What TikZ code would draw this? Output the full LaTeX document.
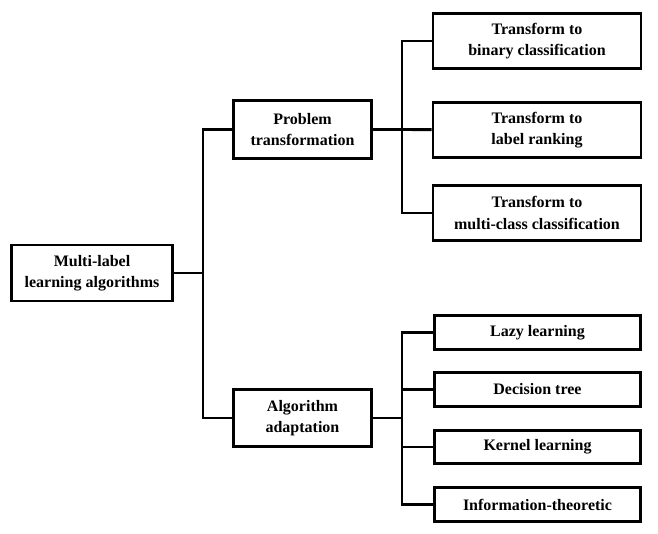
\documentclass[tikz,border=0pt]{standalone}
\usepackage{fontspec}
\setmainfont{Liberation Serif}
\begin{document}
\begin{tikzpicture}[
  x=0.75pt, y=-0.75pt, line width=2.2pt,
    box/.style={draw, inner sep=0pt, align=center,
                font=\fontsize{12}{16}\selectfont\bfseries},
    rootbox/.style={box, minimum width=121pt, minimum height=42pt},
    midbox/.style={box, minimum width=103pt, minimum height=43pt},
    topbox/.style={box, minimum width=156pt, minimum height=41pt},
    lowbox/.style={box, minimum width=155pt, minimum height=25pt},
]
\useasboundingbox (0,0) rectangle (658,534);
\node[rootbox] (root) at (92,273) {Multi-label\\learning algorithms};
\node[midbox] (prob) at (302.5,129.5) {Problem\\transformation};
\node[midbox] (alg) at (302.5,418) {Algorithm\\adaptation};
\node[topbox] (t1) at (537,41) {Transform to\\binary classification};
\node[topbox] (t2) at (537,130) {Transform to\\label ranking};
\node[topbox] (t3) at (537,213) {Transform to\\multi-class classification};
\node[lowbox] (a1) at (537.5,332.5) {Lazy learning};
\node[lowbox] (a2) at (537.5,389.5) {Decision tree};
\node[lowbox] (a3) at (537.5,447) {Kernel learning};
\node[lowbox] (a4) at (537.5,504.5) {Information-theoretic};
\coordinate (j0) at (203,273);
\coordinate (j1) at (402,129.5);
\coordinate (j2) at (402,418);
\draw (root) -- (j0);
\draw (j0) |- (prob);
\draw (j0) |- (alg);
\draw (prob) -- (j1);
\draw (j1) |- (t1);
\draw (j1) -- (t2);
\draw (j1) |- (t3);
\draw (alg) -- (j2);
\draw (j2) |- (a1);
\draw (j2) |- (a2);
\draw (j2) |- (a3);
\draw (j2) |- (a4);
\end{tikzpicture}
\end{document}
